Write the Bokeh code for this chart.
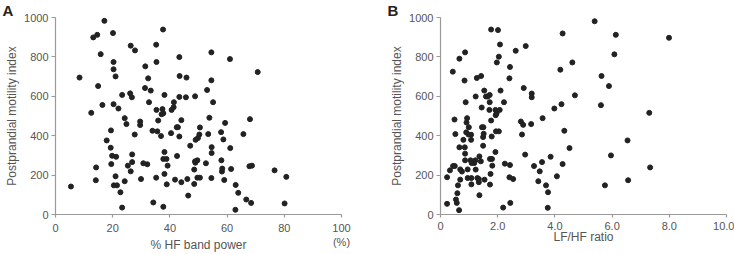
from bokeh.plotting import figure
from bokeh.layouts import row
from bokeh.models import Range1d, FixedTicker, Title
from bokeh.embed import file_html
from bokeh.resources import INLINE

# Panel A: % HF band power vs postprandial motility index
hf_power = [5.4, 8.4, 13.2, 14.6, 17.1, 20.1, 15.8, 14.9, 16.4, 12.5, 20.3, 20.3, 21.0, 20.3, 22.0,
            23.3, 24.2, 24.8, 26.3, 27.8, 26.1, 26.7, 27.7, 19.4, 17.9, 19.3, 19.8, 21.2, 19.5, 14.2,
            14.1, 21.0, 20.4, 21.5, 22.7, 23.3, 24.2, 25.3, 26.3, 26.8, 26.8, 29.6, 29.6, 29.9, 31.4,
            32.4, 31.3, 33.3, 32.7, 30.7, 32.1, 33.9, 34.2, 35.2, 35.3, 35.3, 35.9, 35.6, 35.2, 37.6,
            37.4, 37.1, 37.7, 36.9, 38.1, 38.1, 37.7, 38.8, 39.2, 38.1, 38.9, 37.7, 40.6, 41.3, 41.4,
            40.4, 42.4, 42.8, 43.3, 43.4, 43.3, 44.0, 43.3, 42.5, 41.8, 44.0, 45.8, 45.6, 47.1, 46.1,
            46.4, 48.8, 49.0, 49.8, 50.5, 50.3, 48.8, 49.6, 48.9, 48.5, 48.5, 49.6, 50.5, 53.0, 53.8,
            53.4, 52.6, 54.5, 54.5, 55.1, 54.6, 54.6, 54.5, 57.9, 58.0, 58.7, 59.3, 58.3, 58.2, 59.0,
            61.0, 61.1, 61.4, 63.0, 63.9, 62.9, 65.7, 66.7, 68.0, 67.8, 68.7, 68.4, 70.7, 76.6, 80.7,
            80.1]
motility_a = [142, 695, 899, 912, 983, 921, 814, 652, 556, 516, 774, 737, 701, 560, 538,
              607, 489, 459, 857, 833, 615, 595, 406, 427, 376, 339, 298, 293, 256, 239,
              174, 194, 148, 148, 113, 35, 169, 248, 219, 266, 305, 472, 454, 180, 752,
              691, 642, 629, 570, 260, 255, 425, 61, 862, 774, 531, 477, 422, 187, 939,
              535, 509, 514, 398, 607, 317, 282, 282, 248, 206, 153, 39, 531, 545, 570,
              413, 443, 443, 799, 703, 597, 479, 396, 297, 177, 164, 695, 595, 349, 180,
              96, 600, 379, 388, 442, 406, 270, 275, 263, 228, 155, 187, 187, 632, 491,
              408, 260, 823, 681, 570, 342, 312, 185, 418, 275, 381, 465, 233, 218, 175,
              789, 337, 231, 150, 110, 24, 408, 76, 484, 245, 248, 59, 723, 224, 191,
              56]

# Panel B: LF/HF ratio vs postprandial motility index
lfhf_ratio = [0.23, 0.23, 0.33, 0.43, 0.44, 0.50, 0.49, 0.52, 0.54, 0.57, 0.59, 0.61, 0.65, 0.66, 0.66,
              0.69, 0.69, 0.75, 0.80, 0.84, 0.86, 0.85, 0.86, 0.86, 0.88, 0.90, 0.91, 0.93, 0.98, 0.99,
              0.95, 0.95, 1.05, 1.07, 1.07, 1.08, 1.08, 1.09, 1.18, 1.22, 1.23, 1.27, 1.23, 1.29, 1.36,
              1.34, 1.34, 1.36, 1.42, 1.44, 1.41, 1.45, 1.50, 1.49, 1.51, 1.49, 1.54, 1.53, 1.59, 1.65,
              1.72, 1.72, 1.71, 1.73, 1.77, 1.77, 1.79, 1.80, 1.81, 1.75, 1.73, 1.92, 1.93, 1.92, 1.94,
              1.96, 1.97, 2.01, 2.04, 2.04, 2.07, 2.08, 2.10, 2.19, 2.22, 2.25, 2.41, 2.43, 2.41, 2.43,
              2.44, 2.54, 2.63, 2.81, 2.85, 2.89, 2.91, 2.96, 2.98, 3.17, 3.19, 3.19, 3.27, 3.42, 3.47,
              3.57, 3.55, 3.69, 3.76, 3.75, 3.85, 3.98, 4.07, 4.19, 4.23, 4.27, 4.27, 4.33, 4.51, 4.61,
              4.70, 5.39, 5.63, 5.61, 5.75, 5.89, 5.96, 6.08, 6.13, 6.54, 6.56, 7.30, 7.33, 7.99]
motility_b = [54, 189, 224, 725, 246, 246, 482, 408, 76, 59, 108, 148, 22, 791, 341,
              177, 229, 218, 379, 680, 823, 341, 309, 275, 570, 417, 467, 489, 406, 443,
              229, 185, 275, 405, 379, 185, 153, 261, 261, 275, 599, 693, 228, 185, 295,
              164, 180, 98, 703, 543, 270, 443, 443, 393, 410, 349, 177, 629, 599, 599,
              607, 570, 531, 282, 939, 477, 396, 282, 248, 206, 152, 531, 504, 317, 422,
              513, 772, 936, 801, 422, 531, 863, 629, 35, 570, 258, 691, 749, 189, 251,
              59, 180, 831, 472, 406, 455, 642, 304, 855, 459, 614, 595, 246, 169, 219,
              489, 266, 148, 113, 34, 293, 538, 194, 735, 560, 919, 256, 425, 337, 772,
              605, 981, 703, 555, 148, 652, 300, 813, 912, 376, 174, 516, 239, 897]

y_ticks = [0, 200, 400, 600, 800, 1000]
a_ticks = [0, 20, 40, 60, 80, 100]
a_tick_labels = {100: "100\n(%)"}
b_ticks = [0, 2, 4, 6, 8, 10]
b_tick_labels = {0: "0", 2: "2.0", 4: "4.0", 6: "6.0", 8: "8.0", 10: "10.0"}

FONT = "Liberation Sans"
AXIS_COL = "#9a9a9a"
TXT_COL = "#555555"
DOT_COL = "#222222"


def style(p):
    p.outline_line_color = None
    p.xgrid.grid_line_color = None
    p.ygrid.grid_line_color = None
    p.background_fill_color = "white"
    p.border_fill_color = "white"
    for ax in (p.xaxis[0], p.yaxis[0]):
        ax.axis_line_color = AXIS_COL
        ax.axis_line_width = 1.2
        ax.major_tick_line_color = AXIS_COL
        ax.major_tick_line_width = 1.2
        ax.minor_tick_line_color = None
        ax.major_label_text_font = FONT
        ax.major_label_text_font_size = "11px"
        ax.major_label_text_color = TXT_COL
        ax.axis_label_text_font = FONT
        ax.axis_label_text_font_size = "12px"
        ax.axis_label_text_font_style = "normal"
        ax.axis_label_text_color = TXT_COL
    p.yaxis[0].major_tick_out = 4
    p.yaxis[0].major_tick_in = 0
    p.yaxis[0].major_label_standoff = 3
    p.yaxis[0].axis_label_standoff = 2
    p.xaxis[0].major_tick_out = 3
    p.xaxis[0].major_tick_in = 0
    p.xaxis[0].major_label_standoff = 4
    p.yaxis[0].ticker = FixedTicker(ticks=y_ticks)
    p.yaxis[0].axis_label = "Postprandial motility index"


def panel_title(letter):
    return Title(text=letter, align="left", offset=-53, standoff=-3,
                 text_font=FONT, text_font_size="15px", text_font_style="bold",
                 text_color="#222222")


# ---- Panel A ----
pa = figure(width=367, height=254, output_backend="svg", toolbar_location=None,
            x_range=Range1d(0, 100), y_range=Range1d(0, 1000),
            min_border_left=55, min_border_right=26, min_border_top=17, min_border_bottom=39)
style(pa)
pa.xaxis[0].ticker = FixedTicker(ticks=a_ticks)
pa.xaxis[0].major_label_overrides = a_tick_labels
pa.xaxis[0].axis_label = "% HF band power"
pa.xaxis[0].axis_label_standoff = -13
pa.scatter(hf_power, motility_a, size=5, color=DOT_COL)
pa.add_layout(panel_title("A"), "above")

# ---- Panel B ----
pb = figure(width=367, height=254, output_backend="svg", toolbar_location=None,
            x_range=Range1d(0, 10), y_range=Range1d(0, 1000),
            min_border_left=73, min_border_right=8, min_border_top=17, min_border_bottom=39)
style(pb)
pb.xaxis[0].ticker = FixedTicker(ticks=b_ticks)
pb.xaxis[0].major_label_overrides = b_tick_labels
pb.xaxis[0].axis_label = "LF/HF ratio"
pb.xaxis[0].axis_label_standoff = -3
pb.scatter(lfhf_ratio, motility_b, size=5, color=DOT_COL)
pb.add_layout(panel_title("B"), "above")

layout = row(pa, pb)
open("out.html", "w").write(file_html(layout, INLINE))
